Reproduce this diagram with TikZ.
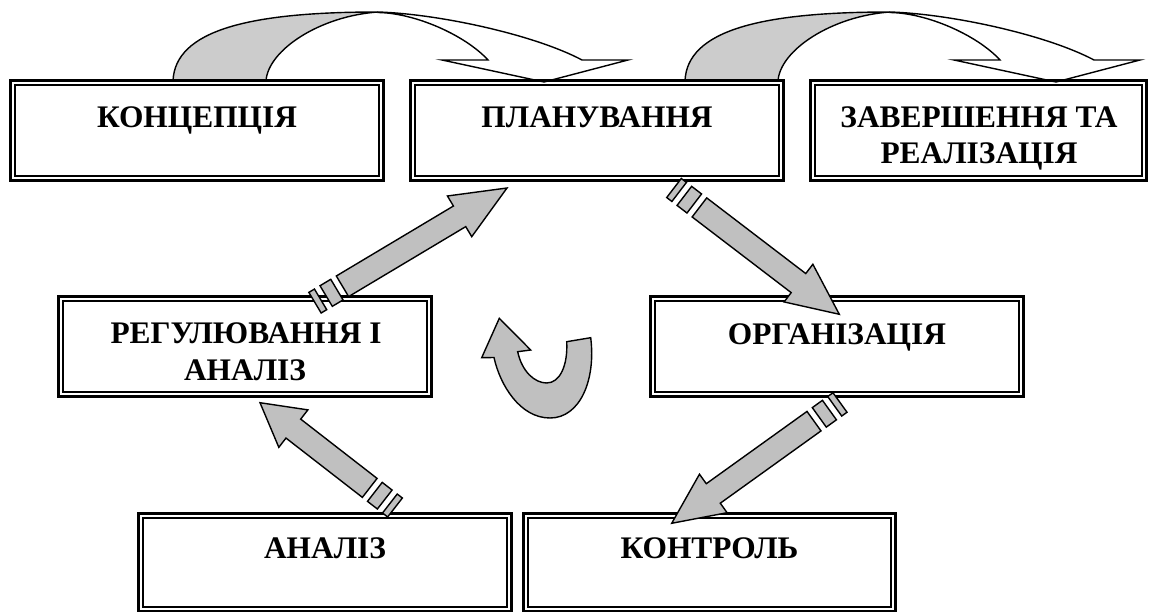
\documentclass[tikz,border=0pt]{standalone}
\usepackage{fontspec}
\setmainfont{Liberation Serif}
\usetikzlibrary{calc}
\definecolor{bentgray}{HTML}{CCCCCC}
\definecolor{arrgray}{HTML}{C0C0C0}

\tikzset{
  stagebox/.style={draw, line width=3pt, minimum width=#1, minimum height=100pt,
    inner sep=0pt,
    path picture={\draw[line width=2pt]
      ([shift={(4.6pt,-4.6pt)}]path picture bounding box.north west) rectangle
      ([shift={(-4.6pt,4.6pt)}]path picture bounding box.south east);}},
  stagebox/.default=373pt,
  stagetext/.style={anchor=base, inner sep=0pt,
    font=\fontsize{31.4pt}{36pt}\selectfont\bfseries},
  arrowshape/.style={fill=arrgray, draw=black, line width=1.4pt, line join=miter},
  bentline/.style={draw=black, line width=1.4pt, line join=miter},
  pics/bentarrow/.style={code={
    % shaded back face of the bent arrow
    \filldraw[bentline, fill=bentgray] (173,81) .. controls (175,30) and (250,12) .. (378,12)
      .. controls (320,16) and (268,50) .. (266,81) -- cycle;
    % white front face with its head
    \filldraw[bentline, fill=white] (378,12) .. controls (440,14) and (535,35) .. (582,60)
      -- (628,60) -- (544,82) -- (442,60) -- (488,60)
      .. controls (465,35) and (415,13) .. (378,12.5) -- cycle;
  }}
}

% striped block arrow from one named coordinate to another
\newcommand\stripearrow[2]{%
  \pgfpointdiff{\pgfpointanchor{#1}{center}}{\pgfpointanchor{#2}{center}}%
  \pgfgetlastxy{\arrdx}{\arrdy}%
  \pgfmathsetmacro\arrang{atan2(\arrdy,\arrdx)}%
  \pgfmathsetmacro\arrlen{veclen(\arrdx,\arrdy)}%
  \pgfmathsetmacro\arrneck{0.753*\arrlen}%
  \begin{scope}[shift={(#1)}, rotate=\arrang]
    \filldraw[arrowshape] (0pt,-12pt) rectangle (6.5pt,12pt);
    \filldraw[arrowshape] (13pt,-12pt) rectangle (25.5pt,12pt);
    \filldraw[arrowshape] (32pt,-12pt) -- (\arrneck pt,-12pt) -- (\arrneck pt,-23.7pt)
      -- (\arrlen pt,0pt) -- (\arrneck pt,23.7pt) -- (\arrneck pt,12pt) -- (32pt,12pt) -- cycle;
  \end{scope}}

\begin{document}
\begin{tikzpicture}[x=1pt, y=-1pt]
\useasboundingbox (0,0) rectangle (1153,612);

% bent arrows over the top row
\pic at (0,0) {bentarrow};
\pic at (512,0) {bentarrow};

% stage boxes
\node[stagebox] (konc) at (197,130.5) {};
\node[stagebox] (plan) at (597,130.5) {};
\node[stagebox=336pt] (zav) at (978.5,130.5) {};
\node[stagebox] (reg) at (245,346.5) {};
\node[stagebox] (org) at (837,346.5) {};
\node[stagebox, minimum height=98pt] (anal) at (325,562.5) {};
\node[stagebox=372pt, minimum height=98pt] (kontr) at (709.5,562.5) {};

% box captions
\node[stagetext] (konc-t) at (197,128) {КОНЦЕПЦІЯ};
\node[stagetext] (plan-t) at (597,128) {ПЛАНУВАННЯ};
\node[stagetext] (zav-t1) at (979,128) {ЗАВЕРШЕННЯ ТА};
\node[stagetext] (zav-t2) at (979,163.5) {РЕАЛІЗАЦІЯ};
\node[stagetext] (reg-t1) at (246,343) {РЕГУЛЮВАННЯ І};
\node[stagetext] (reg-t2) at (245,380) {АНАЛІЗ};
\node[stagetext] (org-t) at (837,344) {ОРГАНІЗАЦІЯ};
\node[stagetext] (anal-t) at (325,558) {АНАЛІЗ};
\node[stagetext] (kontr-t) at (709.5,558) {КОНТРОЛЬ};

% arrow ends
\coordinate (reg-out) at (315,302.7);
\coordinate (plan-in) at (507,188);
\coordinate (plan-out) at (674,188);
\coordinate (org-in) at (839.3,314.3);
\coordinate (org-out) at (840,402.5);
\coordinate (kontr-in) at (671.7,523.3);
\coordinate (anal-out) at (395,507.5);
\coordinate (reg-in) at (260,402.7);

\stripearrow{reg-out}{plan-in}
\stripearrow{plan-out}{org-in}
\stripearrow{org-out}{kontr-in}
\stripearrow{anal-out}{reg-in}

% U-turn arrow in the middle of the cycle
\filldraw[arrowshape] (566.7,341.7) -- (590.7,337.7)
  .. controls (596,380) and (580,418) .. (550,418)
  .. controls (520,418) and (500,385) .. (494,357.5)
  -- (481.7,357.7) -- (499.3,318.3) -- (530.7,350) -- (517.7,351.7)
  .. controls (522,372) and (535,383) .. (546.7,383)
  .. controls (560,383) and (568,365) .. (566.7,341.7) -- cycle;
\end{tikzpicture}
\end{document}
